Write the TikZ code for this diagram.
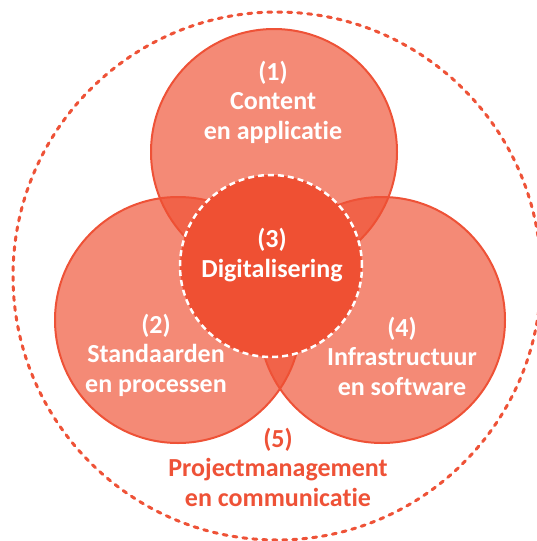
\documentclass[tikz,border=0pt]{standalone}
\usepackage{fontspec}
\setmainfont{Carlito}[RawFeature=-liga]
\definecolor{vermilion}{HTML}{EF5033}
\definecolor{rim}{HTML}{EE5237}
\begin{document}
\begin{tikzpicture}[x=1pt, y=-1pt,
    part/.style={circle, draw=rim, line width=2pt, fill=vermilion, fill opacity=0.67,
        minimum size=246pt, inner sep=0pt},
    core/.style={circle, draw=white, line width=2.5pt, dash pattern=on 6pt off 4pt,
        fill=vermilion, minimum size=182pt, inner sep=0pt},
    lbl/.style={align=center, text=white, font=\bfseries\fontsize{26}{29.5}\selectfont}]
    \useasboundingbox (0,0) rectangle (537,541);

    \node[circle, draw=rim, line width=3pt, line cap=round, dash pattern=on 4pt off 6pt,
        minimum size=528pt, inner sep=0pt] (frame) at (277,276) {};

    \node[part] (content) at (274,152) {};
    \node[part] (standaard) at (178,320) {};
    \node[part] (infra) at (382,320) {};
    \node[core] (digi) at (271,266) {};

    \node[lbl] (t1) at (273,102) {(1)\\Content\\en applicatie};
    \node[lbl] (t3) at (272,255) {(3)\\Digitalisering};
    \node[lbl] (t2) at (156,355) {(2)\\Standaarden\\en processen};
    \node[lbl] (t4) at (402,356) {(4)\\Infrastructuur\\en software};
    \node[lbl, text=rim] (t5) at (278,467) {(5)\\Projectmanagement\\en communicatie};
\end{tikzpicture}
\end{document}
